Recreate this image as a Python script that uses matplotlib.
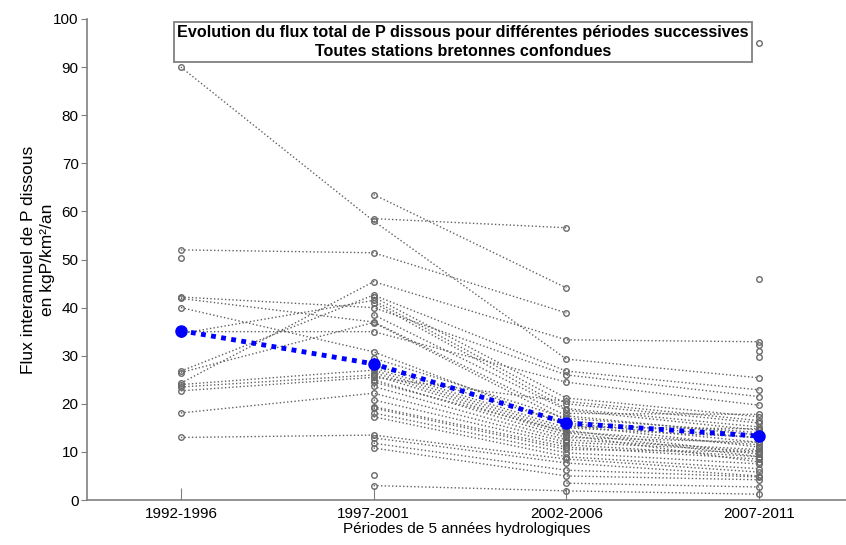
import numpy as np
import matplotlib
matplotlib.use("Agg")
import matplotlib.pyplot as plt

nan = np.nan

# periods (x axis)
periods = ["1992-1996", "1997-2001", "2002-2006", "2007-2011"]

# flux per station (kgP/km2/an), one array per period, nan = no data
p1 = [90.0, 52.0, 50.3, 42.2, 41.9, 40.0, 26.8, 26.5, 24.3, 24.0, 23.5, 22.7,
      18.1, 13.0, 35.0, 34.6, nan, nan, nan, nan, nan, nan, nan, nan,
      nan, nan, nan, nan, nan, nan, nan, nan, nan, nan, nan, nan,
      nan, nan, nan, nan, nan, nan, nan, nan, nan, nan]
p2 = [58.0, 51.4, nan, 40.0, 37.0, 30.8, 42.6, 36.9, 45.4, 27.0, 26.0, 25.5,
      22.2, 13.5, 35.0, 41.5, 63.5, 58.5, 42.2, 41.0, 38.5, 28.1, 27.5, 26.5,
      25.0, 23.6, 20.8, 19.4, 19.1, 18.1, 17.3, 12.9, 11.8, 10.8, 5.2, 3.0,
      29.5, 24.5, nan, nan, nan, nan, nan, nan, nan, nan]
p3 = [29.3, 38.9, nan, 26.0, 17.5, 15.6, 26.8, 16.5, 33.3, 14.5, 13.5, 20.5,
      12.0, 8.5, 24.5, 20.0, 44.1, 56.6, 21.2, 19.0, 18.7, 16.0, 15.0, 14.0,
      13.0, 12.5, 11.5, 11.0, 10.5, 9.8, 9.0, 7.7, 6.2, 5.0, nan, 1.9,
      17.0, 14.2, nan, nan, nan, nan, nan, 3.5, 15.2, 18.0]
p4 = [25.4, nan, nan, 21.5, 13.5, 11.0, 22.9, 12.9, 32.9, 9.5, 7.9, 16.5,
      10.2, 5.8, 19.7, 16.0, nan, nan, 17.3, 15.2, 14.5, 12.0, 13.0, 9.0,
      12.0, 10.5, 9.0, 8.5, 10.0, 7.5, 6.5, 5.0, 4.8, 4.2, nan, 1.2,
      14.0, 11.5, 95.0, 46.0, 32.2, 31.0, 29.8, 2.7, 14.8, 17.8]

# mean over all stations (blue line)
mean_flux = [35.2, 28.3, 16.0, 13.3]

narrow = ["Liberation Sans Narrow", "Liberation Sans", "DejaVu Sans"]

fig = plt.figure(figsize=(8.46, 5.45), dpi=100)
ax = fig.add_axes([87 / 846, 45 / 545, 759 / 846, 481 / 545])

x = np.arange(1, len(periods) + 1)
data = np.array([p1, p2, p3, p4]).T
for row in data:
    ax.plot(x, row, linestyle=":", color="#606060", lw=1.0,
            marker="o", ms=4, mfc="none", mec="#6a6a6a", mew=1.0, zorder=4)

ax.plot(x, mean_flux, color="#0000ff", lw=3.5, dashes=(1, 1.1),
        marker="o", ms=8, mfc="#0000ff", mec="#0000ff", zorder=5)

ax.set_xlim(1 - 94 / 193, 4 + 87 / 193)
ax.set_ylim(0, 100)
ax.set_xticks(x)
ax.set_xticklabels(periods, family=narrow, fontsize=11)
ax.set_yticks(np.arange(0, 101, 10))
ax.set_yticklabels([str(v) for v in range(0, 101, 10)], family=narrow, fontsize=11)
ax.tick_params(axis="x", direction="in", length=9, color="#808080", pad=5)
ax.tick_params(axis="y", direction="out", length=4, color="#808080", pad=2)

for s in ["top", "right"]:
    ax.spines[s].set_visible(False)
for s in ["left", "bottom"]:
    ax.spines[s].set_color("#808080")
    ax.spines[s].set_linewidth(1.2)

ax.set_xlabel("Périodes de 5 années hydrologiques", family=narrow,
              fontsize=11, labelpad=1)
ax.set_ylabel("Flux interannuel de P dissous\nen kgP/km²/an",
              family=["Liberation Sans", "DejaVu Sans"], fontsize=12.5,
              labelpad=-1, linespacing=1.3)

ax.text(463 / 846, 1 - 42 / 545,
        "Evolution du flux total de P dissous pour différentes périodes successives\n"
        "Toutes stations bretonnes confondues",
        transform=fig.transFigure, ha="center", va="center", family=narrow,
        fontweight="bold", fontsize=11.6, linespacing=1.35, zorder=3,
        bbox=dict(boxstyle="square,pad=0.2", fc="white", ec="#808080", lw=1.3))

fig.savefig("out.png", dpi=100)
